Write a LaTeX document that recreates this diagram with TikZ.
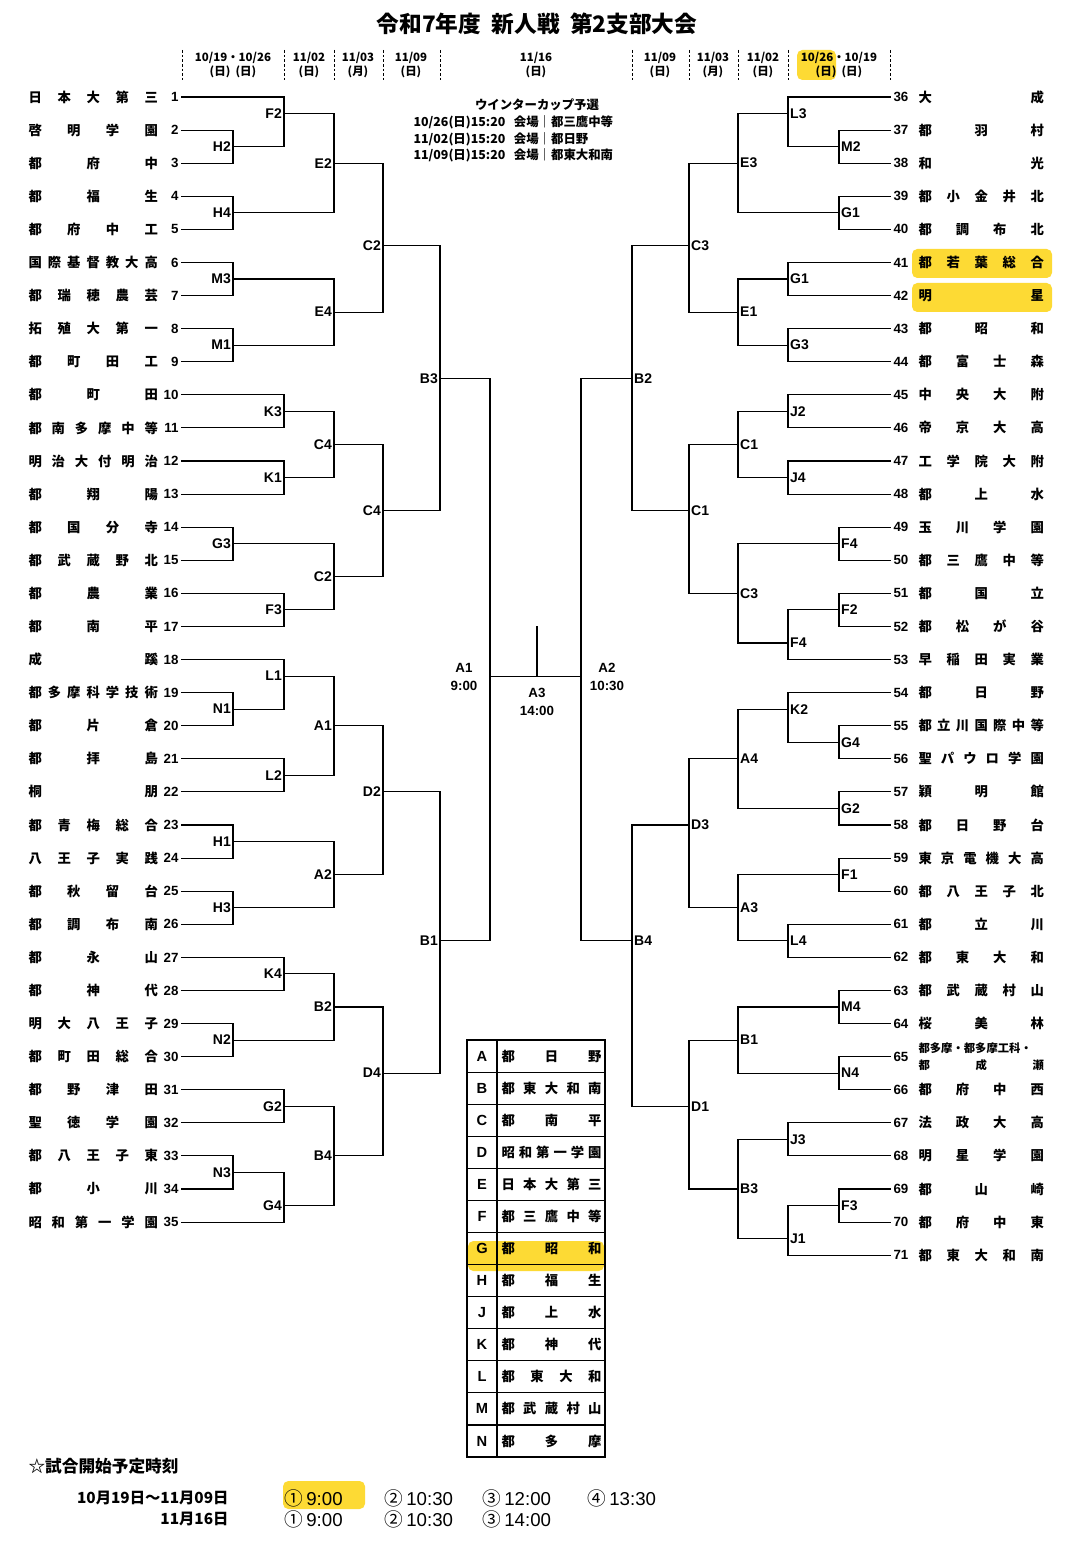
\documentclass[tikz,border=0pt]{standalone}
\usepackage{fontspec}
\setmainfont{Noto Sans CJK JP}
\newfontfamily\lat{Liberation Sans}
\begin{document}
\begin{tikzpicture}[x=0.75pt,y=-0.75pt,line width=0.8pt,line cap=rect,
  lbl/.style={font=\lat\bfseries\fontsize{10.5}{12}\selectfont,inner sep=0.5pt},
  num/.style={font=\lat\bfseries\fontsize{10}{12}\selectfont,inner sep=0pt},
  nm/.style={font=\bfseries\fontsize{10}{11}\selectfont,inner sep=0pt,anchor=west},
  hd/.style={font=\bfseries\fontsize{8.6}{10}\selectfont,align=center,inner sep=0pt},
  hl/.style={fill=yellow!70!orange!80,rounded corners=4pt,draw=none},
  dsh/.style={dashed,line cap=butt,line width=0.6pt,dash pattern=on 2pt off 1.5pt}]
\useasboundingbox (0,0) rectangle (1071,1558);
\fill[white] (0,0) rectangle (1071,1558);
\def\Y#1{97+16.545*#1}
% highlights
\fill[hl] (912,249) rectangle (1052,278);
\fill[hl] (912,283) rectangle (1052,312);
\fill[hl] (797,50) rectangle (836,80);
\fill[hl] (468,1241) rectangle (604,1271);
\fill[hl] (283,1481) rectangle (365,1509);
% title
\node[font=\bfseries\fontsize{17}{20}\selectfont] (title) at (537,24) {令和7年度\ \ 新人戦\ \ 第2支部大会};
% header dashed lines
\foreach \x [count=\i] in {182,284,334,383,440,632,689,738,788,890}
  \draw[dsh] (\x,50) -- (\x,80) coordinate (hdl\i);
\node[hd] (h1) at (233,65) {10/19・10/26\\(日)\ \ (日)};
\node[hd] (h2) at (309,65) {11/02\\(日)};
\node[hd] (h3) at (358,65) {11/03\\(月)};
\node[hd] (h4) at (411,65) {11/09\\(日)};
\node[hd] (h5) at (536,65) {11/16\\(日)};
\node[hd] (h6) at (660,65) {11/09\\(日)};
\node[hd] (h7) at (713,65) {11/03\\(月)};
\node[hd] (h8) at (763,65) {11/02\\(日)};
\node[hd] (h9) at (839,65) {10/26・10/19\\(日)\ \ (日)};
% winter cup
\node[hd,font=\bfseries\fontsize{9.3}{11}\selectfont] (wc) at (537,105) {ウインターカップ予選};
\node[hd,anchor=west,align=left,font=\bfseries\fontsize{9.3}{12.4}\selectfont] (wc2) at (413,139)
 {10/26(日)15:20\ \ \ 会場｜都三鷹中等\\11/02(日)15:20\ \ \ 会場｜都日野\\11/09(日)15:20\ \ \ 会場｜都東大和南};
% macros
\newcommand\LM[6]{\draw (#2,{\Y{#3}}) -- (#2,{\Y{#4}});
  \draw (#2,{\Y{#5}}) -- (#6,{\Y{#5}});
  \node[lbl,anchor=east] (L#1-#5) at (#2-1,{\Y{#5}}) {#1};}
\newcommand\RM[6]{\draw (#2,{\Y{#3}}) -- (#2,{\Y{#4}});
  \draw (#2,{\Y{#5}}) -- (#6,{\Y{#5}});
  \node[lbl,anchor=west] (R#1-#5) at (#2+1,{\Y{#5}}) {#1};}
\newcommand\LT[3]{\pgfmathsetmacro\hh{2*(#1-1)}
  \draw (182,{\Y{\hh}}) -- (#3,{\Y{\hh}});
  \node[num,anchor=east] (nL#1) at (179,{\Y{\hh}}) {#1};
  \node[nm] (tL#1) at (28,{\Y{\hh}}) {\makebox[97pt][s]{#2}};}
\newcommand\RT[3]{\pgfmathsetmacro\hh{2*(#1-36)}
  \draw (#3,{\Y{\hh}}) -- (890,{\Y{\hh}});
  \node[num,anchor=west] (nR#1) at (893,{\Y{\hh}}) {#1};
  \node[nm] (tR#1) at (918,{\Y{\hh}}) {\makebox[94pt][s]{#2}};}
% left teams
\LT{1}{日 本 大 第 三}{284}
\LT{2}{啓 明 学 園}{233}
\LT{3}{都 府 中}{233}
\LT{4}{都 福 生}{233}
\LT{5}{都 府 中 工}{233}
\LT{6}{国 際 基 督 教 大 高}{233}
\LT{7}{都 瑞 穂 農 芸}{233}
\LT{8}{拓 殖 大 第 一}{233}
\LT{9}{都 町 田 工}{233}
\LT{10}{都 町 田}{284}
\LT{11}{都 南 多 摩 中 等}{284}
\LT{12}{明 治 大 付 明 治}{284}
\LT{13}{都 翔 陽}{284}
\LT{14}{都 国 分 寺}{233}
\LT{15}{都 武 蔵 野 北}{233}
\LT{16}{都 農 業}{284}
\LT{17}{都 南 平}{284}
\LT{18}{成 蹊}{284}
\LT{19}{都 多 摩 科 学 技 術}{233}
\LT{20}{都 片 倉}{233}
\LT{21}{都 拝 島}{284}
\LT{22}{桐 朋}{284}
\LT{23}{都 青 梅 総 合}{233}
\LT{24}{八 王 子 実 践}{233}
\LT{25}{都 秋 留 台}{233}
\LT{26}{都 調 布 南}{233}
\LT{27}{都 永 山}{284}
\LT{28}{都 神 代}{284}
\LT{29}{明 大 八 王 子}{233}
\LT{30}{都 町 田 総 合}{233}
\LT{31}{都 野 津 田}{284}
\LT{32}{聖 徳 学 園}{284}
\LT{33}{都 八 王 子 東}{233}
\LT{34}{都 小 川}{233}
\LT{35}{昭 和 第 一 学 園}{284}
% left matches
\LM{H2}{233}{2}{4}{3}{284}
\LM{F2}{284}{0}{3}{1}{334}
\LM{H4}{233}{6}{8}{7}{334}
\LM{E2}{334}{1}{7}{4}{383}
\LM{M3}{233}{10}{12}{11}{334}
\LM{M1}{233}{14}{16}{15}{334}
\LM{E4}{334}{11}{15}{13}{383}
\LM{C2}{383}{4}{13}{9}{440}
\LM{K3}{284}{18}{20}{19}{334}
\LM{K1}{284}{22}{24}{23}{334}
\LM{C4}{334}{19}{23}{21}{383}
\LM{G3}{233}{26}{28}{27}{334}
\LM{F3}{284}{30}{32}{31}{334}
\LM{C2}{334}{27}{31}{29}{383}
\LM{C4}{383}{21}{29}{25}{440}
\LM{B3}{440}{9}{25}{17}{490}
\LM{N1}{233}{36}{38}{37}{284}
\LM{L1}{284}{34}{37}{35}{334}
\LM{L2}{284}{40}{42}{41}{334}
\LM{A1}{334}{35}{41}{38}{383}
\LM{H1}{233}{44}{46}{45}{334}
\LM{H3}{233}{48}{50}{49}{334}
\LM{A2}{334}{45}{49}{47}{383}
\LM{D2}{383}{38}{47}{42}{440}
\LM{K4}{284}{52}{54}{53}{334}
\LM{N2}{233}{56}{58}{57}{334}
\LM{B2}{334}{53}{57}{55}{383}
\LM{G2}{284}{60}{62}{61}{334}
\LM{N3}{233}{64}{66}{65}{284}
\LM{G4}{284}{65}{68}{67}{334}
\LM{B4}{334}{61}{67}{64}{383}
\LM{D4}{383}{55}{64}{59}{440}
\LM{B1}{440}{42}{59}{51}{490}
% right teams
\RT{36}{大 成}{788}
\RT{37}{都 羽 村}{839}
\RT{38}{和 光}{839}
\RT{39}{都 小 金 井 北}{839}
\RT{40}{都 調 布 北}{839}
\RT{41}{都 若 葉 総 合}{788}
\RT{42}{明 星}{788}
\RT{43}{都 昭 和}{788}
\RT{44}{都 富 士 森}{788}
\RT{45}{中 央 大 附}{788}
\RT{46}{帝 京 大 高}{788}
\RT{47}{工 学 院 大 附}{788}
\RT{48}{都 上 水}{788}
\RT{49}{玉 川 学 園}{839}
\RT{50}{都 三 鷹 中 等}{839}
\RT{51}{都 国 立}{839}
\RT{52}{都 松 が 谷}{839}
\RT{53}{早 稲 田 実 業}{788}
\RT{54}{都 日 野}{788}
\RT{55}{都 立 川 国 際 中 等}{839}
\RT{56}{聖 パ ウ ロ 学 園}{839}
\RT{57}{穎 明 館}{839}
\RT{58}{都 日 野 台}{839}
\RT{59}{東 京 電 機 大 高}{839}
\RT{60}{都 八 王 子 北}{839}
\RT{61}{都 立 川}{788}
\RT{62}{都 東 大 和}{788}
\RT{63}{都 武 蔵 村 山}{839}
\RT{64}{桜 美 林}{839}
\draw (839,{\Y{58}}) -- (890,{\Y{58}});
\node[num,anchor=west] (nR65) at (893,{\Y{58}}) {65};
\node[nm,font=\bfseries\fontsize{8.5}{9}\selectfont] (tR65a) at (918,{\Y{58}-8}) {\makebox[94pt][s]{都多摩・都多摩工科・}};
\node[nm,font=\bfseries\fontsize{8.5}{9}\selectfont] (tR65b) at (918,{\Y{58}+9}) {\makebox[94pt][s]{都 成 瀬}};
\RT{66}{都 府 中 西}{839}
\RT{67}{法 政 大 高}{788}
\RT{68}{明 星 学 園}{788}
\RT{69}{都 山 崎}{839}
\RT{70}{都 府 中 東}{839}
\RT{71}{都 東 大 和 南}{788}
% right matches
\RM{M2}{839}{2}{4}{3}{788}
\RM{L3}{788}{0}{3}{1}{738}
\RM{G1}{839}{6}{8}{7}{738}
\RM{E3}{738}{1}{7}{4}{689}
\RM{G1}{788}{10}{12}{11}{738}
\RM{G3}{788}{14}{16}{15}{738}
\RM{E1}{738}{11}{15}{13}{689}
\RM{C3}{689}{4}{13}{9}{632}
\RM{J2}{788}{18}{20}{19}{738}
\RM{J4}{788}{22}{24}{23}{738}
\RM{C1}{738}{19}{23}{21}{689}
\RM{F4}{839}{26}{28}{27}{738}
\RM{F2}{839}{30}{32}{31}{788}
\RM{F4}{788}{31}{34}{33}{738}
\RM{C3}{738}{27}{33}{30}{689}
\RM{C1}{689}{21}{30}{25}{632}
\RM{B2}{632}{9}{25}{17}{581}
\RM{G4}{839}{38}{40}{39}{788}
\RM{K2}{788}{36}{39}{37}{738}
\RM{G2}{839}{42}{44}{43}{738}
\RM{A4}{738}{37}{43}{40}{689}
\RM{F1}{839}{46}{48}{47}{738}
\RM{L4}{788}{50}{52}{51}{738}
\RM{A3}{738}{47}{51}{49}{689}
\RM{D3}{689}{40}{49}{44}{632}
\RM{M4}{839}{54}{56}{55}{738}
\RM{N4}{839}{58}{60}{59}{738}
\RM{B1}{738}{55}{59}{57}{689}
\RM{J3}{788}{62}{64}{63}{738}
\RM{F3}{839}{66}{68}{67}{788}
\RM{J1}{788}{67}{70}{69}{738}
\RM{B3}{738}{63}{69}{66}{689}
\RM{D1}{689}{57}{66}{61}{632}
\RM{B4}{632}{44}{61}{51}{581}
% finals
\draw (490,{\Y{17}}) -- (490,{\Y{51}});
\draw (581,{\Y{17}}) -- (581,{\Y{51}});
\coordinate (fl) at (490,{\Y{35}});
\coordinate (fr) at (581,{\Y{35}});
\coordinate (a3top) at (537,627);
\coordinate (a3bot) at (537,{\Y{35}});
\draw (fl) -- (fr);
\draw (a3top) -- (a3bot);
\node[lbl,align=center,font=\lat\bfseries\fontsize{10}{14}\selectfont] (fA1) at (464,677) {A1\\9:00};
\node[lbl,align=center,font=\lat\bfseries\fontsize{10}{14}\selectfont] (fA2) at (607,677) {A2\\10:30};
\node[lbl,align=center,font=\lat\bfseries\fontsize{10}{14}\selectfont] (fA3) at (537,702) {A3\\14:00};
% legend table
\draw (467,1040) rectangle (605,1457);
\draw (497,1040) -- (497,1457);
\foreach \L/\N [count=\i] in {A/都 日 野,B/都 東 大 和 南,C/都 南 平,D/昭 和 第 一 学 園,E/日 本 大 第 三,F/都 三 鷹 中 等,G/都 昭 和,H/都 福 生,J/都 上 水,K/都 神 代,L/都 東 大 和,M/都 武 蔵 村 山,N/都 多 摩}{
  \pgfmathsetmacro\yy{1040+32.08*(\i-0.5)}
  \ifnum\i<13 \draw (467,{1040+32.08*\i}) -- (605,{1040+32.08*\i}); \fi
  \node[lbl,font=\lat\bfseries\fontsize{11}{12}\selectfont] (tk\L) at (482,\yy) {\L};
  \node[nm] (tn\L) at (501,\yy) {\makebox[75pt][s]{\N}};
}
% times
\node[anchor=west,font=\bfseries\fontsize{12.5}{14}\selectfont,inner sep=0] (st) at (28,1466) {☆試合開始予定時刻};
\node[anchor=east,font=\bfseries\fontsize{11.5}{13}\selectfont,inner sep=0] (d1) at (229,1498) {10月19日～11月09日};
\node[anchor=east,font=\bfseries\fontsize{11.5}{13}\selectfont,inner sep=0] (d2) at (229,1519) {11月16日};
\tikzset{tm/.style={anchor=west,font=\fontsize{14}{16}\selectfont,inner sep=0}}
\node[tm] (t11) at (284,1498) {①\,{\lat 9:00}};
\node[tm] (t12) at (384,1498) {②\,{\lat 10:30}};
\node[tm] (t13) at (482,1498) {③\,{\lat 12:00}};
\node[tm] (t14) at (587,1498) {④\,{\lat 13:30}};
\node[tm] (t21) at (284,1519) {①\,{\lat 9:00}};
\node[tm] (t22) at (384,1519) {②\,{\lat 10:30}};
\node[tm] (t23) at (482,1519) {③\,{\lat 14:00}};
\end{tikzpicture}
\end{document}
